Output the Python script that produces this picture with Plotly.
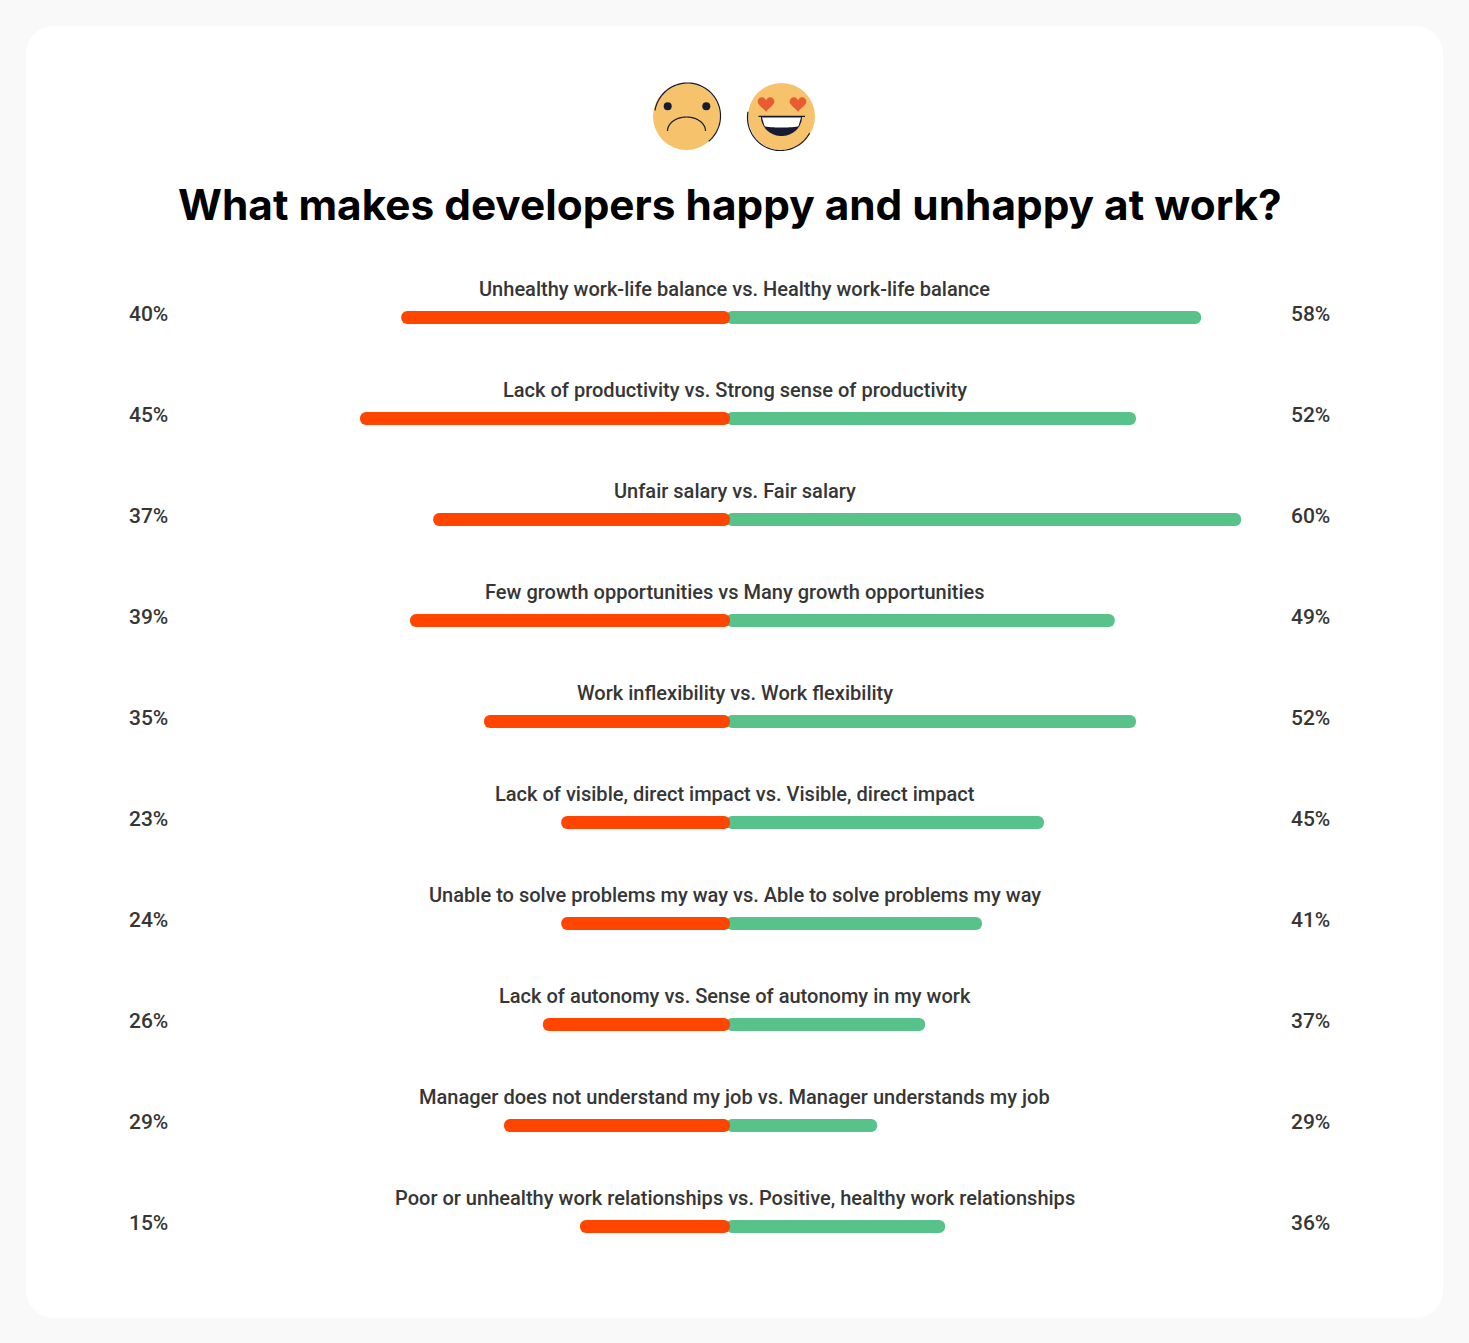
import numpy as np
import plotly.graph_objects as go

W, H = 1469, 1343
TITLE = "What makes developers happy and unhappy at work?"
labels = [
    "Unhealthy work-life balance vs. Healthy work-life balance",
    "Lack of productivity vs. Strong sense of productivity",
    "Unfair salary vs. Fair salary",
    "Few growth opportunities vs Many growth opportunities",
    "Work inflexibility vs. Work flexibility",
    "Lack of visible, direct impact vs. Visible, direct impact",
    "Unable to solve problems my way vs. Able to solve problems my way",
    "Lack of autonomy vs. Sense of autonomy in my work",
    "Manager does not understand my job vs. Manager understands my job",
    "Poor or unhealthy work relationships vs. Positive, healthy work relationships",
]
left_text = [40, 45, 37, 39, 35, 23, 24, 26, 29, 15]
right_text = [58, 52, 60, 49, 52, 45, 41, 37, 29, 36]
# Drawn bar lengths (they differ from the printed percentages)
left_bar = [41.1, 46.25, 37.1, 40.0, 30.75, 21.1, 21.1, 23.4, 28.25, 18.75]
right_bar = [58.9, 50.75, 63.9, 48.1, 50.75, 39.25, 31.5, 24.4, 18.4, 26.9]

CENTER = 730
UNIT = 8.0
ROW0, ROW_STEP, BAR_H = 317.5, 101, 13
RED, GREEN, INK = "#FF4500", "#57C38A", "#363636"
FACE, DARK, HEART = "#F6C26B", "#161A33", "#E95B30"

fx = lambda x: x / W
fy = lambda y: 1 - y / H


def poly(pts, close=False):
    s = "M" + " L".join(f"{fx(x):.5f},{fy(y):.5f}" for x, y in pts)
    return s + (" Z" if close else "")


def arc(cx, cy, r, a0, a1, ry=None, n=60):
    t = np.radians(np.linspace(a0, a1, n))
    ry = r if ry is None else ry
    return list(zip(cx + r * np.cos(t), cy + ry * np.sin(t)))


def rounded(x0, y0, x1, y1, r):
    pts = (arc(x1 - r, y0 + r, r, -90, 0, n=16) + arc(x1 - r, y1 - r, r, 0, 90, n=16)
           + arc(x0 + r, y1 - r, r, 90, 180, n=16) + arc(x0 + r, y0 + r, r, 180, 270, n=16))
    return poly(pts, True)


def circle(cx, cy, r, color):
    return dict(type="circle", xref="paper", yref="paper", x0=fx(cx - r), x1=fx(cx + r), layer="below",
                y0=fy(cy + r), y1=fy(cy - r), fillcolor=color, line_width=0)


def path(p, fill=None, line=None, width=0):
    d = dict(type="path", xref="paper", yref="paper", path=p, layer="below",
             line=dict(width=width, color=line or "rgba(0,0,0,0)"))
    d["fillcolor"] = fill or "rgba(0,0,0,0)"
    return d


def heart(cx, cy, s):
    t = np.linspace(0, 2 * np.pi, 60)
    x = 16 * np.sin(t) ** 3
    y = 13 * np.cos(t) - 5 * np.cos(2 * t) - 2 * np.cos(3 * t) - np.cos(4 * t)
    return poly(list(zip(cx + s * x, cy - s * y)), True)


shapes = [path(rounded(26, 26, 1443, 1318, 28), fill="#FFFFFF")]
# sad face
shapes += [
    circle(686.5, 116.5, 33.5, FACE),
    path(poly(arc(687.5, 116, 33, -170, 50)), line=DARK, width=1.2),
    circle(667.7, 106.3, 4, DARK),
    circle(706.3, 106.3, 4, DARK),
    path(poly(arc(686.5, 131, 19, -180, 0, ry=14)), line=DARK, width=1.2),
]
# happy face
shapes += [
    circle(781.5, 116.5, 33.5, FACE),
    path(poly(arc(780.5, 117.5, 33, 28, 190)), line=DARK, width=1.2),
    path(heart(766, 103.5, 0.52), fill=HEART),
    path(heart(798, 103.5, 0.52), fill=HEART),
    path(poly(arc(781.5, 116.5, 20.5, 0, 180, ry=19.5), True), fill=DARK),
    path(poly([(762, 117.5), (801, 117.5), (798.5, 126)] + arc(781.5, 126, 17, 0, 180, ry=1.5) + [(764.5, 126)], True),
         fill="#FFFFFF"),
    path(poly([(758.5, 116.3), (805, 116.3)]), line=DARK, width=1.2),
]

fig = go.Figure()
fig.add_bar(y=labels, x=[v + 0.5 for v in right_bar], base=-0.5, orientation="h", width=BAR_H / ROW_STEP,
            marker=dict(color=GREEN, cornerradius=BAR_H / 2, line_width=0), hoverinfo="skip")
fig.add_bar(y=labels, x=[-v for v in left_bar], base=0, orientation="h", width=BAR_H / ROW_STEP,
            marker=dict(color=RED, cornerradius=BAR_H / 2, line_width=0), hoverinfo="skip")

ann = []
tf = dict(family="Roboto", size=20.05, color=INK, weight=500)
pf = dict(family="Roboto", size=21, color=INK, weight=500)
for lab, a, b in zip(labels, left_text, right_text):
    ann.append(dict(x=0.5, xref="paper", y=lab, yref="y", yshift=28.5, text=lab, showarrow=False,
                    xanchor="center", font=tf))
    ann.append(dict(x=fx(129), xref="paper", y=lab, yref="y", yshift=3.5, text=f"{a}%", showarrow=False,
                    xanchor="left", xshift=-2, font=pf))
    ann.append(dict(x=fx(1291), xref="paper", y=lab, yref="y", yshift=3.5, text=f"{b}%", showarrow=False,
                    xanchor="left", xshift=-2, font=pf))
ann.append(dict(x=fx(730), xref="paper", y=fy(205), yref="paper", text=TITLE, showarrow=False,
                xanchor="center", yanchor="middle",
                font=dict(family="Inter", size=42.35, weight=700, color="#000000")))

fig.update_layout(
    width=W, height=H, margin=dict(l=0, r=0, t=0, b=0), autosize=False,
    paper_bgcolor="#F9F9F9", plot_bgcolor="rgba(0,0,0,0)", showlegend=False,
    barmode="overlay", shapes=shapes, annotations=ann,
    xaxis=dict(range=[-CENTER / UNIT, (W - CENTER) / UNIT], visible=False, fixedrange=True),
    yaxis=dict(type="category", categoryorder="array", categoryarray=labels,
               range=[(H - ROW0) / ROW_STEP, -ROW0 / ROW_STEP], visible=False, fixedrange=True),
)
fig.write_html("out.html", config={"displayModeBar": False},
               post_script="document.body.style.margin='0';document.body.style.overflow='hidden';")
